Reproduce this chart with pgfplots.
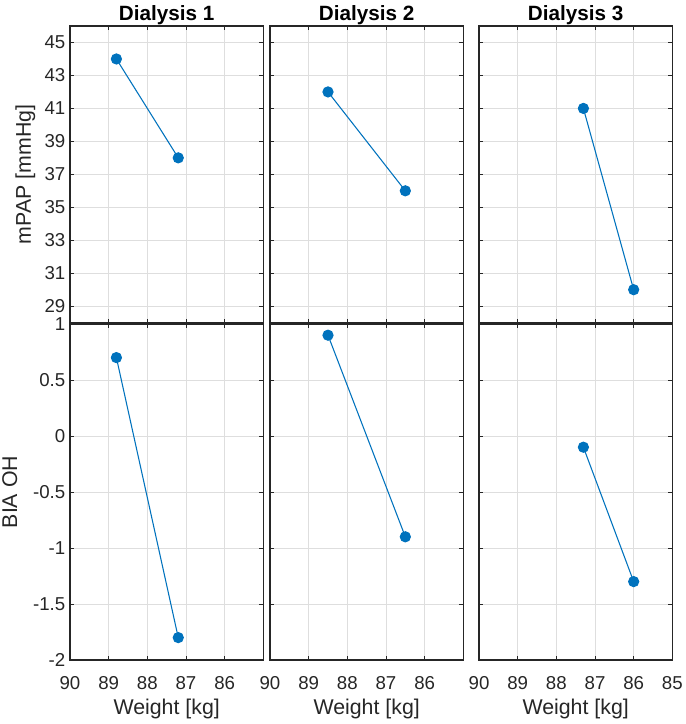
\documentclass[border=0pt]{standalone}
\usepackage{pgfplots}
\pgfplotsset{compat=1.18}
\usepackage{fontspec}
\setmainfont{Liberation Sans}
\definecolor{mblue}{RGB}{0,114,189}
\definecolor{axgray}{RGB}{38,38,38}
\definecolor{gridgray}{RGB}{222,222,222}

% all lengths below: 1px of the reference = 0.75pt
\pgfplotsset{
  dial/.style={
    scale only axis,
    width=145pt,
    anchor=north west,
    x dir=reverse,
    xmin=85, xmax=90,
    grid=major,
    major grid style={gridgray, line width=0.5pt},
    axis line style={axgray, line width=0.8pt},
    tick style={axgray, line width=0.6pt},
    major tick length=3pt,
    tick align=inside,
    xtick pos=both, ytick pos=both,
    every tick label/.append style={text=axgray, font=\fontsize{14}{16}\selectfont},
    label style={text=axgray, font=\fontsize{16}{18}\selectfont},
    title style={font=\fontsize{15.5}{18}\selectfont\bfseries, yshift=-8.5pt},
    /pgf/number format/assume math mode=true,
  },
  toprow/.style={
    dial, height=222.5pt,
    ymin=28, ymax=46,
    ytick={29,31,...,45},
    xticklabels={},
  },
  botrow/.style={
    dial, height=252pt,
    ymin=-2, ymax=1,
    ytick={-2,-1.5,-1,-0.5,0,0.5,1},
    yticklabels={-2,-1.5,-1,-0.5,0,0.5,1},
    xticklabel style={yshift=-9pt},
    xlabel={Weight [kg]},
    xlabel style={yshift=0pt},
  },
  ser/.style={mblue, line width=0.8pt, mark=*, mark size=3.8pt, mark options={fill=mblue, draw=mblue}},
}

\begin{document}
\begin{tikzpicture}
\path[use as bounding box] (0,0) rectangle (513.75pt,-543pt);

% ---- top row: mPAP
\begin{axis}[toprow, at={(52.5pt,-19.5pt)}, title={Dialysis 1}, ylabel={mPAP [mmHg]}, xtick={86,87,88,89,90}]
\addplot[ser] coordinates {(88.8,44) (87.2,38)};
\end{axis}
\begin{axis}[toprow, at={(202.5pt,-19.5pt)}, title={Dialysis 2}, yticklabels={}, xtick={86,87,88,89,90}]
\addplot[ser] coordinates {(88.5,42) (86.5,36)};
\end{axis}
\begin{axis}[toprow, at={(359.25pt,-19.5pt)}, title={Dialysis 3}, yticklabels={}, xtick={85,86,87,88,89,90}]
\addplot[ser] coordinates {(87.3,41) (86.0,30)};
\end{axis}

% ---- bottom row: BIA OH
\begin{axis}[botrow, at={(52.5pt,-243pt)}, ylabel={BIA OH}, ylabel style={yshift=5pt}, xtick={86,87,88,89,90}]
\addplot[ser] coordinates {(88.8,0.7) (87.2,-1.8)};
\end{axis}
\begin{axis}[botrow, at={(202.5pt,-243pt)}, yticklabels={}, xtick={86,87,88,89,90}]
\addplot[ser] coordinates {(88.5,0.9) (86.5,-0.9)};
\end{axis}
\begin{axis}[botrow, at={(359.25pt,-243pt)}, yticklabels={}, xtick={85,86,87,88,89,90}]
\addplot[ser] coordinates {(87.3,-0.1) (86.0,-1.3)};
\end{axis}
\end{tikzpicture}
\end{document}
